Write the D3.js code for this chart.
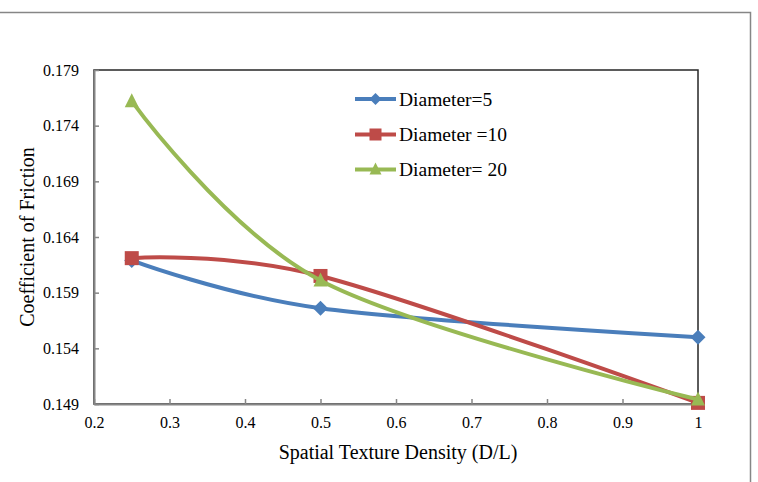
<!DOCTYPE html>
<html>
<head>
<meta charset="utf-8">
<script src="https://cdn.jsdelivr.net/npm/d3@7"></script>
<style>
  html, body { margin: 0; padding: 0; background: #fff; }
  svg { display: block; }
  svg text { font-family: "Liberation Serif", "Times New Roman", serif !important; fill: #000; }
</style>
</head>
<body>
<svg id="chart" width="758" height="482"></svg>
<script>
// ---- data ----
const xValues = [0.25, 0.5, 1];
const seriesNames = ["Diameter=5", "Diameter =10", "Diameter= 20"];
const diameter5 = [0.1619, 0.1576, 0.1550];
const diameter10 = [0.1621, 0.1605, 0.1491];
const diameter20 = [0.1762, 0.1601, 0.1494];
const xTicks = [0.2, 0.3, 0.4, 0.5, 0.6, 0.7, 0.8, 0.9, 1];
const yTicks = [0.149, 0.154, 0.159, 0.164, 0.169, 0.174, 0.179];
const colors = ["#4A7EBB", "#BE4B48", "#98B954"];
const markers = ["diamond", "square", "triangle"];

const svg = d3.select("#chart");
const W = 758, H = 482;
const m = { left: 94, right: 698, top: 70, bottom: 404 };

// outer chart frame (top and right edges visible)
svg.append("path")
  .attr("d", `M0,12.5 H750.5 V${H}`)
  .attr("fill", "none").attr("stroke", "#868686").attr("stroke-width", 1.5);

const x = d3.scaleLinear().domain([0.2, 1]).range([m.left, m.right]);
const y = d3.scaleLinear().domain([0.149, 0.179]).range([m.bottom, m.top]);

// plot area border
svg.append("rect")
  .attr("x", m.left).attr("y", m.top)
  .attr("width", m.right - m.left).attr("height", m.bottom - m.top)
  .attr("fill", "none").attr("stroke", "#262626").attr("stroke-width", 1.5);

// axes
const xAxis = d3.axisBottom(x).tickValues(xTicks).tickSizeInner(-5).tickSizeOuter(0)
  .tickPadding(13).tickFormat(d => d3.format("")(+d.toFixed(1)));
const gx = svg.append("g").attr("transform", `translate(0,${m.bottom})`).call(xAxis)
  .attr("font-family", "Liberation Serif").attr("font-size", 16);
gx.select(".domain").attr("stroke", "#868686").attr("stroke-width", 2);
gx.selectAll(".tick line").attr("stroke", "#868686").attr("stroke-width", 1.5);
gx.selectAll(".tick text").style("font-size", "16px").attr("fill", "#000");

const yAxis = d3.axisLeft(y).tickValues(yTicks).tickSizeInner(-5).tickSizeOuter(0)
  .tickPadding(15).tickFormat(d3.format(".3f"));
const gy = svg.append("g").attr("transform", `translate(${m.left},0)`).call(yAxis)
  .attr("font-family", "Liberation Serif").attr("font-size", 16);
gy.select(".domain").attr("stroke", "#868686").attr("stroke-width", 2);
gy.selectAll(".tick line").attr("stroke", "#868686").attr("stroke-width", 1.5);
gy.selectAll(".tick text").style("font-size", "16px").attr("fill", "#000");

// axis titles
svg.append("text")
  .attr("x", (m.left + m.right) / 2 + 2).attr("y", 459)
  .attr("text-anchor", "middle").style("font-size", "20px")
  .text("Spatial Texture Density (D/L)");
svg.append("text")
  .attr("transform", `translate(34,${(m.top + m.bottom) / 2}) rotate(-90)`)
  .attr("text-anchor", "middle").style("font-size", "20px")
  .text("Coefficient of Friction");

// series
const allSeries = [diameter5, diameter10, diameter20];
const line = d3.line().x(d => x(d[0])).y(d => y(d[1])).curve(d3.curveCardinal.tension(0));

function drawMarker(g, type, cx, cy, color, s) {
  if (type === "diamond") {
    g.append("path").attr("d", `M${cx},${cy - s} L${cx + s},${cy} L${cx},${cy + s} L${cx - s},${cy} Z`)
      .attr("fill", color);
  } else if (type === "square") {
    g.append("rect").attr("x", cx - s).attr("y", cy - s).attr("width", 2 * s).attr("height", 2 * s)
      .attr("fill", color);
  } else {
    g.append("path").attr("d", `M${cx},${cy - s - 1} L${cx + s},${cy + s - 1} L${cx - s},${cy + s - 1} Z`)
      .attr("fill", color);
  }
}

const sizes = [7.5, 7, 7];
allSeries.forEach((vals, i) => {
  const pts = xValues.map((xv, j) => [xv, vals[j]]);
  const g = svg.append("g");
  g.append("path").attr("d", line(pts)).attr("fill", "none")
    .attr("stroke", colors[i]).attr("stroke-width", 4).attr("stroke-linejoin", "round");
  pts.forEach(p => drawMarker(g, markers[i], x(p[0]), y(p[1]), colors[i], sizes[i]));
});

// legend
const legendY = [99, 134.5, 169.5];
seriesNames.forEach((name, i) => {
  const g = svg.append("g");
  g.append("line").attr("x1", 355).attr("x2", 396).attr("y1", legendY[i]).attr("y2", legendY[i])
    .attr("stroke", colors[i]).attr("stroke-width", 4);
  drawMarker(g, markers[i], 375.5, legendY[i], colors[i], 6);
  g.append("text").attr("x", 399).attr("y", legendY[i]).attr("dy", "0.35em")
    .style("font-size", "19.5px").text(name);
});
</script>
</body>
</html>
